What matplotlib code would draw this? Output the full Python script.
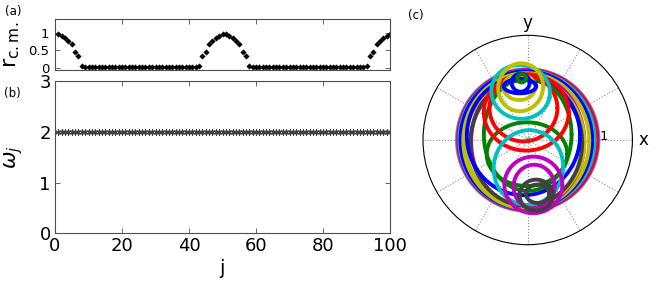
import numpy as np
import matplotlib
matplotlib.use("Agg")
import matplotlib.pyplot as plt

# ---------------- data ----------------
j_index = list(range(1, 101))
r_cm = [0.97, 0.92, 0.86, 0.79, 0.69, 0.46, 0.34, 0.05, 0.02, 0.01,
        0.01, 0.01, 0.01, 0.01, 0.01, 0.01, 0.01, 0.01, 0.01, 0.01,
        0.01, 0.01, 0.01, 0.01, 0.01, 0.01, 0.01, 0.01, 0.01, 0.01,
        0.01, 0.01, 0.01, 0.01, 0.01, 0.01, 0.01, 0.01, 0.01, 0.01,
        0.01, 0.02, 0.05, 0.34, 0.46, 0.69, 0.79, 0.86, 0.92, 0.97,
        0.97, 0.92, 0.86, 0.79, 0.69, 0.46, 0.34, 0.05, 0.02, 0.01,
        0.01, 0.01, 0.01, 0.01, 0.01, 0.01, 0.01, 0.01, 0.01, 0.01,
        0.01, 0.01, 0.01, 0.01, 0.01, 0.01, 0.01, 0.01, 0.01, 0.01,
        0.01, 0.01, 0.01, 0.01, 0.01, 0.01, 0.01, 0.01, 0.01, 0.01,
        0.01, 0.02, 0.05, 0.34, 0.46, 0.69, 0.79, 0.86, 0.92, 0.97]
omega_bar = [2.0] * 100

a_yticks = [0, 0.5, 1]
a_yticklabels = ["0", "0.5", "1"]
b_xticks = [0, 20, 40, 60, 80, 100]
b_yticks = [0, 1, 2, 3]

# trajectory loops in panel (c): centre x, centre y, half-width, half-height, tilt (deg), colour
B, G, R, C, M, Y, K = "#0000ff", "#008000", "#ff0000", "#00bfbf", "#bf00bf", "#bfbf00", "#404040"
loop_cx = [0.00, 0.00, 0.00, -0.01, -0.02, -0.02, 0.00, -0.04, -0.02, -0.06,
           0.00, -0.01, -0.02, -0.06, 0.01, -0.10, -0.10, -0.118, -0.11,
           -0.10, -0.085, 0.08, 0.09, 0.12, 0.14]
loop_cy = [0.00, 0.00, 0.00, 0.00, 0.00, -0.01, -0.02, -0.03, -0.04, 0.06,
           0.08, -0.20, 0.39, 0.45, -0.39, 0.68, 0.745, 0.745, 0.76,
           0.81, 0.873, -0.635, -0.66, -0.78, -0.76]
loop_rx = [1.00, 0.985, 0.97, 0.955, 0.93, 0.89, 0.80, 0.84, 0.79, 0.80,
           0.62, 0.57, 0.60, 0.48, 0.49, 0.415, 0.316, 0.226, 0.23,
           0.127, 0.06, 0.41, 0.29, 0.235, 0.165]
loop_ry = [1.00, 0.99, 0.98, 0.975, 0.97, 0.955, 0.94, 0.92, 0.89, 0.84,
           0.80, 0.45, 0.54, 0.47, 0.53, 0.38, 0.34, 0.18, 0.10,
           0.127, 0.06, 0.40, 0.31, 0.22, 0.13]
loop_tilt = [0, 0, 0, 0, 0, 0, 0, 0, 0, 0,
             0, 0, 0, 0, -10, -10, -15, 0, 0,
             0, 0, 0, 0, 0, 0]
loop_color = ["#8a7f8a", M, R, C, B, Y, M, Y, K, B,
              G, G, R, R, C, C, Y, Y, B,
              B, G, M, M, K, K]

# ---------------- figure ----------------
W, H = 664, 283
fig = plt.figure(figsize=(W / 100, H / 100), dpi=100)
plt.rcParams["font.family"] = ["DejaVu Sans"]
plt.rcParams["mathtext.fontset"] = "dejavusans"


def style_box(ax):
    for s in ax.spines.values():
        s.set_color("0.3")
        s.set_linewidth(0.8)
    ax.tick_params(direction="in", top=True, right=True, length=3.5,
                   width=0.6, color="0.3")


# panel (a)
axa = fig.add_axes([55 / W, 1 - 70 / H, 335 / W, 51 / H])
axa.plot(j_index, r_cm, linestyle="none", marker="D", markersize=2.8,
         color="black", markeredgewidth=0.3)
axa.set_xlim(0, 100)
axa.set_ylim(-0.07, 1.42)
axa.set_xticks(b_xticks)
axa.set_xticklabels([])
axa.set_yticks(a_yticks)
axa.set_yticklabels(a_yticklabels, fontsize=9.5)
style_box(axa)
axa.tick_params(axis="y", pad=4)
axa.set_ylabel(r"$\mathrm{r}_{\mathrm{c.m.}}$", fontsize=16)
axa.yaxis.set_label_coords(-0.098, 0.5)

# panel (b)
axb = fig.add_axes([55 / W, 1 - 233 / H, 335 / W, 151.5 / H])
axb.plot(j_index, omega_bar, linestyle="none", marker=(6, 2, 0),
         markersize=5, color="0.25", markeredgewidth=0.7)
axb.set_xlim(0, 100)
axb.set_ylim(0, 3)
axb.set_xticks(b_xticks)
axb.set_yticks(b_yticks)
axb.tick_params(labelsize=13, pad=3)
style_box(axb)
axb.set_xlabel("j", fontsize=14, labelpad=3)
axb.set_ylabel(r"$\bar{\omega}_j$", fontsize=15)
axb.yaxis.set_label_coords(-0.088, 0.5)

# panel (c)
axc = fig.add_axes([423 / W, 1 - 244.7 / H, 209.4 / W, 209.4 / H],
                   projection="polar")
axc.set_ylim(0, 1.48)
axc.set_xticks(np.deg2rad(np.arange(0, 360, 30)))
axc.set_xticklabels([])
axc.set_yticks([1])
axc.set_yticklabels([])
axc.grid(True, linestyle=":", color="0.55", linewidth=0.8)
axc.spines["polar"].set_color("black")
axc.spines["polar"].set_linewidth(0.8)

t = np.linspace(0, 2 * np.pi, 400)
for cx, cy, rx, ry, tl, col in zip(loop_cx, loop_cy, loop_rx, loop_ry,
                                   loop_tilt, loop_color):
    a = np.deg2rad(tl)
    ex, ey = rx * np.cos(t), ry * np.sin(t)
    xs = cx + ex * np.cos(a) - ey * np.sin(a)
    ys = cy + ex * np.sin(a) + ey * np.cos(a)
    th = np.unwrap(np.arctan2(ys, xs))
    rr = np.hypot(xs, ys)
    axc.plot(th, rr, color=col, linewidth=2.8, solid_capstyle="round")

axc.plot([0], [0], marker="o", markersize=3.5, markerfacecolor="none",
         markeredgecolor="0.4", markeredgewidth=0.6)
axc.text(np.deg2rad(2.5), 1.08, "1", fontsize=9.5, ha="center", va="center")
axc.text(0, 1.63, "x", fontsize=12, ha="center", va="center")
axc.text(np.pi / 2, 1.66, "y", fontsize=12, ha="center", va="center")

fig.text(5 / W, 1 - 11 / H, "(a)", fontsize=8.5, va="center")
fig.text(4 / W, 1 - 93 / H, "(b)", fontsize=8.5, va="center")
fig.text(408 / W, 1 - 15 / H, "(c)", fontsize=8.5, va="center")

fig.savefig("out.png", dpi=100)
